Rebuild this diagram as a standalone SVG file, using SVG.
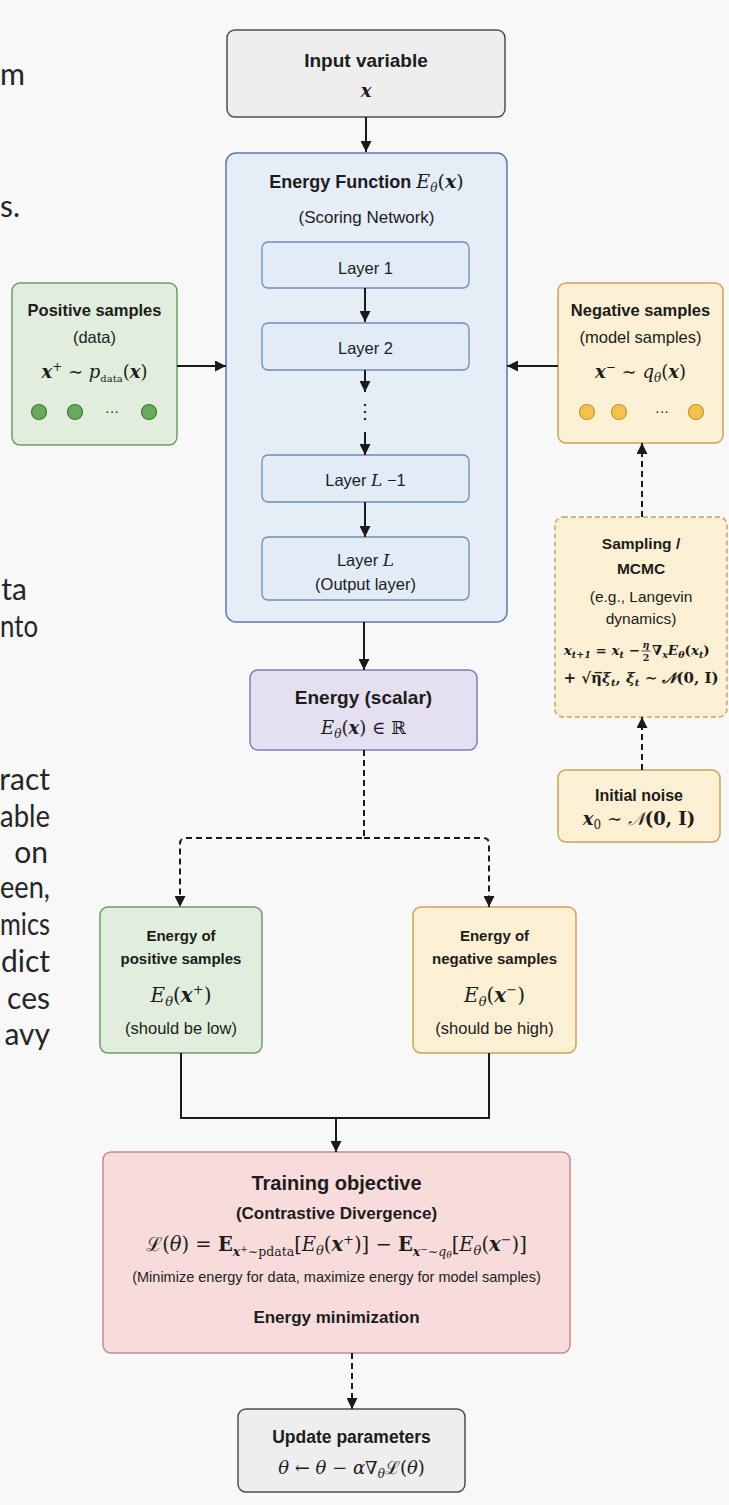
<svg xmlns="http://www.w3.org/2000/svg" width="729" height="1505" viewBox="0 0 729 1505">
<defs>
<marker id="ah" viewBox="0 0 10 10" refX="10" refY="5" markerUnits="userSpaceOnUse" markerWidth="11" markerHeight="11" orient="auto">
<path d="M0,0 L10,5 L0,10 z" fill="#1a1a1a"/>
</marker>
<style>
.s{font-family:"Liberation Sans",Arial,sans-serif;fill:#1c1c1c}
.b{font-weight:bold}
.m{font-family:"DejaVu Serif","Liberation Serif",serif;fill:#1c1c1c}
.i{font-style:italic}
.bi{font-style:italic;font-weight:bold}
.c{text-anchor:middle}
.frag{font-family:Lato,"Open Sans",sans-serif;font-size:30px;fill:#262626;text-anchor:end}
.fs{text-anchor:start}
.ln{stroke:#1a1a1a;stroke-width:2;fill:none}
.dash{stroke-dasharray:6 4}
.gray{fill:#eeeeee;stroke:#4d4d4d;stroke-width:1.5}
.blue{fill:#e5edf7;stroke:#5a7bab;stroke-width:1.5}
.layer{fill:#e2ebf6;stroke:#6f8cb5;stroke-width:1.3}
.green{fill:#e1eedd;stroke:#6e9a68;stroke-width:1.5}
.yellow{fill:#fbf0d3;stroke:#c9a557;stroke-width:1.5}
.purple{fill:#e4e0f2;stroke:#8478b4;stroke-width:1.5}
.red{fill:#f8dcdc;stroke:#c98787;stroke-width:1.5}
.gdot{fill:#6aa85f;stroke:#3f7a3a;stroke-width:1.2}
.ydot{fill:#f2c14e;stroke:#c4962c;stroke-width:1.2}
</style>
</defs>
<rect x="0" y="0" width="729" height="1505" fill="#f8f8f8"/>

<g id="fragments">
<text class="frag fs" x="0" y="85" font-size="35" textLength="25" lengthAdjust="spacingAndGlyphs">m</text>
<text class="frag fs" x="0" y="217" font-size="35">s.</text>
<text class="frag" x="27" y="600">ta</text>
<text class="frag fs" x="0" y="637" textLength="38" lengthAdjust="spacingAndGlyphs">nto</text>
<text class="frag" x="50" y="790">ract</text>
<text class="frag fs" x="0" y="827" textLength="50" lengthAdjust="spacingAndGlyphs">able</text>
<text class="frag" x="48" y="863">on</text>
<text class="frag fs" x="0" y="898" textLength="50" lengthAdjust="spacingAndGlyphs">een,</text>
<text class="frag fs" x="0" y="935" textLength="50" lengthAdjust="spacingAndGlyphs">mics</text>
<text class="frag" x="50" y="972">dict</text>
<text class="frag" x="50" y="1009">ces</text>
<text class="frag" x="50" y="1045">avy</text>
</g>

<g id="input">
<rect class="gray" x="227" y="30" width="278" height="87" rx="8"/>
<text class="s b c" x="366" y="67" font-size="19">Input variable</text>
<text class="m bi c" x="366" y="97" font-size="18">x</text>
</g>

<g id="energy-function">
<rect class="blue" x="226" y="153" width="281" height="469" rx="10"/>
<text class="c" x="366.5" y="188"><tspan class="s b" font-size="18">Energy Function </tspan><tspan class="m i" font-size="19">E</tspan><tspan class="m i" font-size="12" dy="4">θ</tspan><tspan class="m" font-size="19" dy="-4">(</tspan><tspan class="m bi" font-size="19">x</tspan><tspan class="m" font-size="19">)</tspan></text>
<text class="s c" x="366.5" y="223" font-size="17">(Scoring Network)</text>
</g>

<g id="layer-1">
<rect class="layer" x="262" y="242" width="207" height="46" rx="6"/>
<text class="s c" x="365.5" y="274" font-size="16.5">Layer 1</text>
</g>
<g id="layer-2">
<rect class="layer" x="262" y="323" width="207" height="47" rx="6"/>
<text class="s c" x="365.5" y="354" font-size="16.5">Layer 2</text>
</g>
<g id="layer-l-1">
<rect class="layer" x="262" y="455" width="207" height="47" rx="6"/>
<text class="c" x="365.5" y="486"><tspan class="s" font-size="16.5">Layer </tspan><tspan class="m i" font-size="17">L</tspan><tspan class="s" font-size="16.5"> −1</tspan></text>
</g>
<g id="layer-l">
<rect class="layer" x="262" y="537" width="207" height="63" rx="6"/>
<text class="c" x="365.5" y="566"><tspan class="s" font-size="16.5">Layer </tspan><tspan class="m i" font-size="17">L</tspan></text>
<text class="s c" x="365.5" y="590" font-size="16.5">(Output layer)</text>
</g>

<g id="energy-scalar">
<rect class="purple" x="250" y="670" width="227" height="80" rx="8"/>
<text class="s b c" x="363.5" y="704" font-size="19">Energy (scalar)</text>
<text class="m c" x="363.5" y="734" font-size="18"><tspan class="i">E</tspan><tspan class="i" font-size="12" dy="4">θ</tspan><tspan dy="-4">(</tspan><tspan class="bi">x</tspan>) ∈ ℝ</text>
</g>

<g id="positive-samples">
<rect class="green" x="12" y="283" width="165" height="162" rx="8"/>
<text class="s b c" x="94.5" y="316" font-size="16.5">Positive samples</text>
<text class="s c" x="94.5" y="343" font-size="16.5">(data)</text>
<text class="m c" x="94.5" y="378" font-size="18"><tspan class="bi">x</tspan><tspan font-size="12" dy="-7">+</tspan><tspan dy="7"> ∼ </tspan><tspan class="i">p</tspan><tspan font-size="10" dy="4">data</tspan><tspan dy="-4">(</tspan><tspan class="bi">x</tspan>)</text>
<circle class="gdot" cx="39" cy="412" r="7.5"/>
<circle class="gdot" cx="75" cy="412" r="7.5"/>
<text class="s c" x="112" y="416" font-size="14">···</text>
<circle class="gdot" cx="149" cy="412" r="7.5"/>
</g>

<g id="negative-samples">
<rect class="yellow" x="558" y="283" width="165" height="160" rx="8"/>
<text class="s b c" x="640.5" y="316" font-size="16.5">Negative samples</text>
<text class="s c" x="640.5" y="343" font-size="16.5">(model samples)</text>
<text class="m c" x="640.5" y="378" font-size="18"><tspan class="bi">x</tspan><tspan font-size="12" dy="-7">−</tspan><tspan dy="7"> ∼ </tspan><tspan class="i">q</tspan><tspan class="i" font-size="12" dy="4">θ</tspan><tspan dy="-4">(</tspan><tspan class="bi">x</tspan>)</text>
<circle class="ydot" cx="587" cy="412" r="7.5"/>
<circle class="ydot" cx="619" cy="412" r="7.5"/>
<text class="s c" x="662" y="416" font-size="14">···</text>
<circle class="ydot" cx="696" cy="412" r="7.5"/>
</g>

<g id="sampling">
<rect class="yellow" x="555" y="517" width="172" height="200" rx="8" stroke="#b8975a" stroke-dasharray="5 3"/>
<text class="s b c" x="641" y="549" font-size="15.5">Sampling /</text>
<text class="s b c" x="641" y="574" font-size="15.5">MCMC</text>
<text class="s c" x="641" y="602" font-size="15.5">(e.g., Langevin</text>
<text class="s c" x="641" y="624" font-size="15.5">dynamics)</text>
<text class="m b" x="640" y="655" font-size="13.5" text-anchor="end"><tspan class="bi">x</tspan><tspan class="i" font-size="9.5" dy="3">t+1</tspan><tspan dy="-3"> = </tspan><tspan class="bi">x</tspan><tspan class="i" font-size="9.5" dy="3">t</tspan><tspan dy="-3"> −</tspan></text>
<text class="m bi c" x="646" y="648" font-size="9.5">η</text>
<line x1="641.5" y1="651" x2="650.5" y2="651" stroke="#1c1c1c" stroke-width="0.8"/>
<text class="m b c" x="646" y="660.5" font-size="9.5">2</text>
<text class="m b" x="652" y="655" font-size="13.5">∇<tspan class="bi" font-size="9.5" dy="3">x</tspan><tspan class="bi" dy="-3">E</tspan><tspan class="bi" font-size="9.5" dy="3">θ</tspan><tspan dy="-3">(</tspan><tspan class="bi">x</tspan><tspan class="bi" font-size="9.5" dy="3">t</tspan><tspan dy="-3">)</tspan></text>
<text class="m b c" x="641" y="683" font-size="15">+ √η̅<tspan class="bi">ξ</tspan><tspan class="bi" font-size="10" dy="3">t</tspan><tspan dy="-3">, </tspan><tspan class="bi">ξ</tspan><tspan class="bi" font-size="10" dy="3">t</tspan><tspan dy="-3"> ∼ </tspan><tspan class="i">𝒩</tspan>(0, I)</text>
</g>

<g id="initial-noise">
<rect class="yellow" x="558" y="770" width="162" height="72" rx="8"/>
<text class="s b c" x="639" y="801" font-size="16">Initial noise</text>
<text class="m c" x="639" y="825" font-size="18"><tspan class="bi">x</tspan><tspan font-size="12" dy="4">0</tspan><tspan dy="-4"> ∼ </tspan><tspan class="i">𝒩</tspan><tspan font-weight="bold">(0, I)</tspan></text>
</g>

<g id="energy-positive">
<rect class="green" x="100" y="907" width="162" height="146" rx="8"/>
<text class="s b c" x="181" y="941" font-size="15">Energy of</text>
<text class="s b c" x="181" y="964" font-size="15">positive samples</text>
<text class="m c" x="181" y="1002" font-size="20"><tspan class="i">E</tspan><tspan class="i" font-size="13" dy="4">θ</tspan><tspan dy="-4">(</tspan><tspan class="bi">x</tspan><tspan font-size="13" dy="-8">+</tspan><tspan dy="8">)</tspan></text>
<text class="s c" x="181" y="1034" font-size="16.5">(should be low)</text>
</g>

<g id="energy-negative">
<rect class="yellow" x="413" y="907" width="163" height="146" rx="8"/>
<text class="s b c" x="494.5" y="941" font-size="15">Energy of</text>
<text class="s b c" x="494.5" y="964" font-size="15">negative samples</text>
<text class="m c" x="494.5" y="1002" font-size="20"><tspan class="i">E</tspan><tspan class="i" font-size="13" dy="4">θ</tspan><tspan dy="-4">(</tspan><tspan class="bi">x</tspan><tspan font-size="13" dy="-8">−</tspan><tspan dy="8">)</tspan></text>
<text class="s c" x="494.5" y="1034" font-size="16.5">(should be high)</text>
</g>

<g id="training-objective">
<rect class="red" x="103" y="1152" width="467" height="201" rx="8"/>
<text class="s b c" x="336.5" y="1190" font-size="20">Training objective</text>
<text class="s b c" x="336.5" y="1219" font-size="17">(Contrastive Divergence)</text>
<text class="m c" x="336.5" y="1251" font-size="19.5">ℒ(<tspan class="i">θ</tspan>) = <tspan font-weight="bold">E</tspan><tspan class="bi" font-size="12.5" dy="5">x</tspan><tspan font-size="9" dy="-4">+</tspan><tspan font-size="12.5" dy="4">∼pdata</tspan><tspan dy="-5">[</tspan><tspan class="i">E</tspan><tspan class="i" font-size="13" dy="4">θ</tspan><tspan dy="-4">(</tspan><tspan class="bi">x</tspan><tspan font-size="13" dy="-7">+</tspan><tspan dy="7">)]  −  </tspan><tspan font-weight="bold">E</tspan><tspan class="bi" font-size="12.5" dy="5">x</tspan><tspan font-size="9" dy="-4">−</tspan><tspan font-size="12.5" dy="4">∼</tspan><tspan class="i" font-size="12.5">q</tspan><tspan class="i" font-size="9" dy="2">θ</tspan><tspan dy="-7">[</tspan><tspan class="i">E</tspan><tspan class="i" font-size="13" dy="4">θ</tspan><tspan dy="-4">(</tspan><tspan class="bi">x</tspan><tspan font-size="13" dy="-7">−</tspan><tspan dy="7">)]</tspan></text>
<text class="s c" x="336.5" y="1282" font-size="14.5">(Minimize energy for data, maximize energy for model samples)</text>
<text class="s b c" x="336.5" y="1323" font-size="17">Energy minimization</text>
</g>

<g id="update-parameters">
<rect class="gray" x="238" y="1409" width="227" height="83" rx="8"/>
<text class="s b c" x="351.5" y="1443" font-size="17.5">Update parameters</text>
<text class="m c" x="351.5" y="1474" font-size="18"><tspan class="i">θ</tspan> ← <tspan class="i">θ</tspan> − <tspan class="i">α</tspan>∇<tspan class="i" font-size="12" dy="4">θ</tspan><tspan dy="-4">ℒ(</tspan><tspan class="i">θ</tspan>)</text>
</g>

<g id="connectors">
<line class="ln" x1="366" y1="117" x2="366" y2="152" marker-end="url(#ah)"/>
<line class="ln" x1="365" y1="288" x2="365" y2="322" marker-end="url(#ah)"/>
<line class="ln" x1="365" y1="370" x2="365" y2="392" marker-end="url(#ah)"/>
<circle cx="365" cy="405" r="1.3" fill="#333"/>
<circle cx="365" cy="412" r="1.3" fill="#333"/>
<circle cx="365" cy="419" r="1.3" fill="#333"/>
<line class="ln" x1="365" y1="432" x2="365" y2="455" marker-end="url(#ah)"/>
<line class="ln" x1="365" y1="502" x2="365" y2="537" marker-end="url(#ah)"/>
<line class="ln" x1="364" y1="622" x2="364" y2="670" marker-end="url(#ah)"/>
<line class="ln" x1="177" y1="366" x2="226" y2="366" marker-end="url(#ah)"/>
<line class="ln" x1="558" y1="366" x2="507" y2="366" marker-end="url(#ah)"/>
<line class="ln dash" x1="642" y1="517" x2="642" y2="443" marker-end="url(#ah)"/>
<line class="ln dash" x1="642" y1="770" x2="642" y2="717" marker-end="url(#ah)"/>
<path class="ln dash" d="M364,750 V838 H186 Q180,838 180,844 V907" marker-end="url(#ah)"/>
<path class="ln dash" d="M364,838 H483 Q489,838 489,844 V907" marker-end="url(#ah)"/>
<path class="ln" d="M181,1053 V1118 H489 V1053"/>
<line class="ln" x1="336" y1="1118" x2="336" y2="1152" marker-end="url(#ah)"/>
<line class="ln dash" x1="352" y1="1353" x2="352" y2="1409" marker-end="url(#ah)"/>
</g>
</svg>
